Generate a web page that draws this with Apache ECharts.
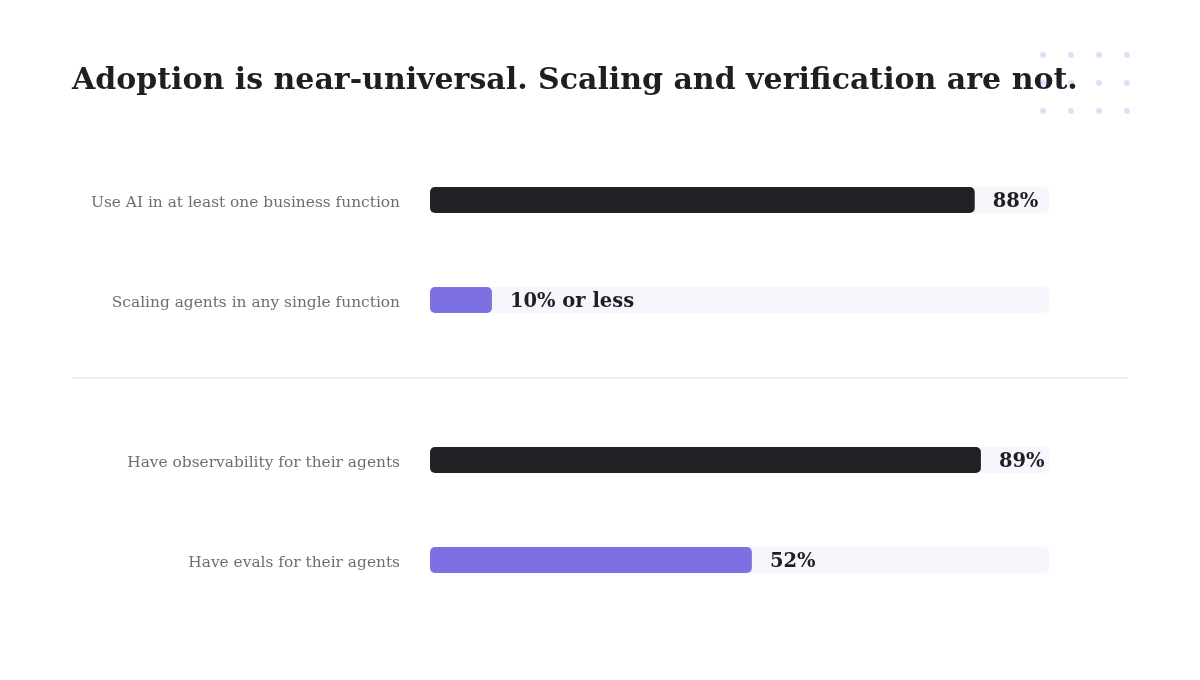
<!DOCTYPE html>
<html>
<head>
<meta charset="utf-8">
<script src="https://cdn.jsdelivr.net/npm/echarts@6/dist/echarts.min.js"></script>
<style>html,body{margin:0;padding:0;background:#fff}#c{width:1200px;height:680px}</style>
</head>
<body>
<div id="c"></div>
<script>
const titleText = 'Adoption is near-universal. Scaling and verification are not.';
const groupA = ['Use AI in at least one business function', 'Scaling agents in any single function'];
const valuesA = [88, 10];
const labelsA = ['88%', '10% or less'];
const groupB = ['Have observability for their agents', 'Have evals for their agents'];
const valuesB = [89, 52];
const labelsB = ['89%', '52%'];

const DARK = '#222024', PURPLE = '#7c70e3', TRACK = '#f6f6fc';
const colorsA = [DARK, PURPLE];
const colorsB = [DARK, PURPLE];
const SERIF = '"DejaVu Serif", serif';

const chart = echarts.init(document.getElementById('c'), null, {renderer: 'canvas'});

function mkData(vals, cols, labs) {
  return vals.map((v, i) => ({value: v, itemStyle: {color: cols[i]}, label: {formatter: labs[i]}}));
}
function yAx(idx, cats) {
  return {
    type: 'category', gridIndex: idx, data: cats, inverse: true,
    axisLine: {show: false}, axisTick: {show: false}, splitLine: {show: false},
    axisLabel: {
      margin: 30, formatter: v => '{a|' + v + '}',
      rich: {a: {color: '#6e6e6e', fontSize: 15.4, fontFamily: SERIF, padding: [6, 0, 0, 0]}}
    }
  };
}
function xAx(idx) {
  return {type: 'value', gridIndex: idx, min: 0, max: 100, show: false};
}
function ser(idx, vals, cols, labs) {
  return {
    type: 'bar', xAxisIndex: idx, yAxisIndex: idx, barWidth: 26,
    data: mkData(vals, cols, labs),
    itemStyle: {borderRadius: 5},
    showBackground: true,
    backgroundStyle: {color: TRACK, borderRadius: 5},
    label: {show: true, position: 'right', distance: 18, offset: [0, 2], color: '#1f1e23',
      fontSize: 19.5, fontWeight: 'bold', fontFamily: SERIF},
    animation: false
  };
}

const dots = [];
[55, 83, 111].forEach(y => [1043, 1071, 1099, 1127].forEach(x => dots.push({
  type: 'circle', z: -1, shape: {cx: x, cy: y, r: 3}, style: {fill: '#e2def8'}
})));

chart.setOption({
  animation: false,
  title: {text: titleText, left: 72, top: 66, padding: 0,
    textStyle: {fontFamily: SERIF, fontWeight: 'bold', fontSize: 30, color: '#1f1e23'}},
  grid: [
    {left: 430, right: 151, top: 150, height: 200},
    {left: 430, right: 151, top: 410, height: 200}
  ],
  xAxis: [xAx(0), xAx(1)],
  yAxis: [yAx(0, groupA), yAx(1, groupB)],
  series: [ser(0, valuesA, colorsA, labelsA), ser(1, valuesB, colorsB, labelsB)],
  graphic: dots.concat([{
    type: 'rect', shape: {x: 72, y: 377, width: 1056, height: 2}, style: {fill: '#efefef'}
  }])
});
</script>
</body>
</html>
